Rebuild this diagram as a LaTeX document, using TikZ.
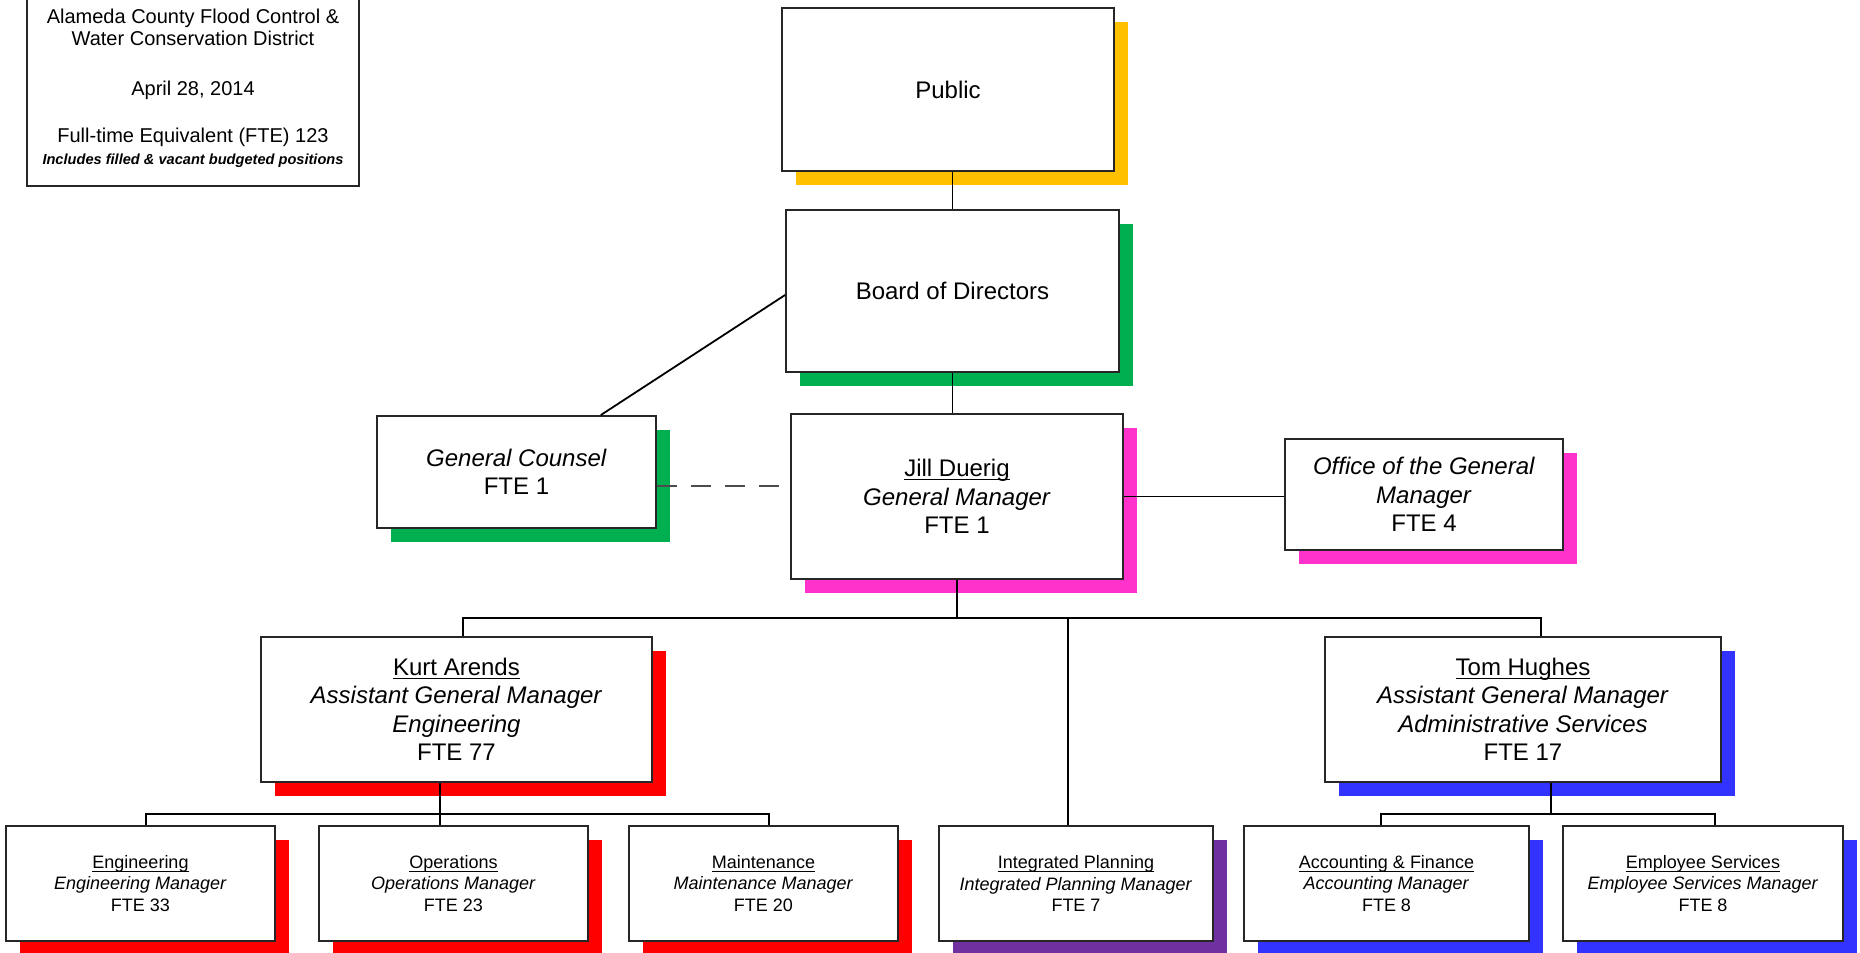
\documentclass[tikz,border=0pt]{standalone}
\usepackage{fontspec}
\setmainfont{Liberation Sans}
\usetikzlibrary{shadows,calc}
\definecolor{shYellow}{HTML}{FFC000}
\definecolor{shGreen}{HTML}{00B050}
\definecolor{shMagenta}{HTML}{FF33CC}
\definecolor{shRed}{HTML}{FF0000}
\definecolor{shPurple}{HTML}{7030A0}
\definecolor{shBlue}{HTML}{3333FF}
% underline sitting just below the baseline, whatever the descenders
\newcommand\ulname[1]{\underline{\smash{#1}}\vphantom{#1}}
\begin{document}
\begin{tikzpicture}[x=0.5pt,y=-0.5pt,
  box/.style={draw=black!85, line width=0.9pt, fill=white, inner sep=0pt,
    align=center, font=\fontsize{12}{14.25}\selectfont},
  backing/.style={drop shadow={shadow xshift=7pt,shadow yshift=-7pt,fill=#1,opacity=1}},
  unitbox/.style={box, font=\fontsize{9}{10.75}\selectfont, minimum height=57.5pt},
  link/.style={line width=0.9pt, draw=black}]
\fill[white] (0,0) rectangle (1860,953);
\useasboundingbox (0,0) rectangle (1860,953);

% title block
\node[box, minimum width=166pt, minimum height=98pt, font=\fontsize{10}{11}\selectfont] (info) at (193,88)
  {Alameda County Flood Control \&\\ Water Conservation District\\[14pt]
   April 28, 2014\\[12.5pt] Full-time Equivalent (FTE) 123\\
   \fontsize{7.3}{11}\selectfont\bfseries\itshape Includes filled \& vacant budgeted positions};

% governance
\node[box, backing=shYellow, minimum width=166pt, minimum height=81.5pt] (public) at (948,89.5) {Public};
\node[box, backing=shGreen, minimum width=166.5pt, minimum height=81pt] (board) at (952.5,291) {Board of Directors};
\node[box, backing=shGreen, minimum width=139.5pt, minimum height=56pt] (gc) at (516.5,472)
  {\textit{General Counsel}\\FTE 1};
\node[box, backing=shMagenta, minimum width=166pt, minimum height=82.5pt] (jill) at (957,496.5)
  {\ulname{Jill Duerig}\\\textit{General Manager}\\FTE 1};
\node[box, backing=shMagenta, minimum width=139pt, minimum height=55.5pt] (office) at (1424,494.5)
  {\textit{Office of the General}\\\textit{Manager}\\FTE 4};

% assistant general managers
\node[box, backing=shRed, minimum width=195.5pt, minimum height=72.5pt] (kurt) at (456.5,709.5)
  {\ulname{Kurt Arends}\\\textit{Assistant General Manager}\\\textit{Engineering}\\FTE 77};
\node[box, backing=shBlue, minimum width=198pt, minimum height=72.5pt] (tom) at (1523,709.5)
  {\ulname{Tom Hughes}\\\textit{Assistant General Manager}\\\textit{Administrative Services}\\FTE 17};

% units
\node[unitbox, backing=shRed, minimum width=134.5pt] (eng) at (140.5,883.5)
  {\ulname{Engineering}\\\textit{Engineering Manager}\\FTE 33};
\node[unitbox, backing=shRed, minimum width=134.5pt] (ops) at (453.5,883.5)
  {\ulname{Operations}\\\textit{Operations Manager}\\FTE 23};
\node[unitbox, backing=shRed, minimum width=134.5pt] (maint) at (763.5,883.5)
  {\ulname{Maintenance}\\\textit{Maintenance Manager}\\FTE 20};
\node[unitbox, backing=shPurple, minimum width=137pt] (ip) at (1076,883.5)
  {\ulname{Integrated Planning}\\\textit{Integrated Planning Manager}\\FTE 7};
\node[unitbox, backing=shBlue, minimum width=142.5pt] (acc) at (1386.5,883.5)
  {\ulname{Accounting \& Finance}\\\textit{Accounting Manager}\\FTE 8};
\node[unitbox, backing=shBlue, minimum width=140pt] (emp) at (1703,883.5)
  {\ulname{Employee Services}\\\textit{Employee Services Manager}\\FTE 8};

% reporting lines
\draw[link] (board.north) -- (board.north |- public.south);
\draw[link] (board.south) -- (board.south |- jill.north);
\draw[link] ([yshift=-2pt]board.west) -- ($(gc.north west)!0.8!(gc.north east)$);
\draw[link, draw=black!70, line width=1.1pt, dash pattern=on 10pt off 7pt] ([yshift=-7pt]gc.east) -- ([yshift=-7pt]gc.east -| jill.west);
\draw[link] (jill.east) -- (jill.east -| office.west);

\coordinate (busK) at (463,618);
\coordinate (busIP) at (1068,618);
\coordinate (busT) at (1541,618);
\draw[link] (jill.south) -- (jill.south |- busK);
\draw[link] (busK |- kurt.north) -- (busK) -- (busT) -- (busT |- tom.north);
\draw[link] (busIP) -- (busIP |- ip.north);

\coordinate (kE) at (146,814);
\coordinate (kM) at (769,814);
\coordinate (kS) at (440,814);
\draw[link] (kE |- eng.north) -- (kE) -- (kM) -- (kM |- maint.north);
\draw[link] (kS |- kurt.south) -- (kS |- ops.north);

\coordinate (tA) at (1381,814);
\coordinate (tE) at (1715,814);
\coordinate (tS) at (1551,814);
\draw[link] (tA |- acc.north) -- (tA) -- (tE) -- (tE |- emp.north);
\draw[link] (tS |- tom.south) -- (tS);
\end{tikzpicture}
\end{document}
